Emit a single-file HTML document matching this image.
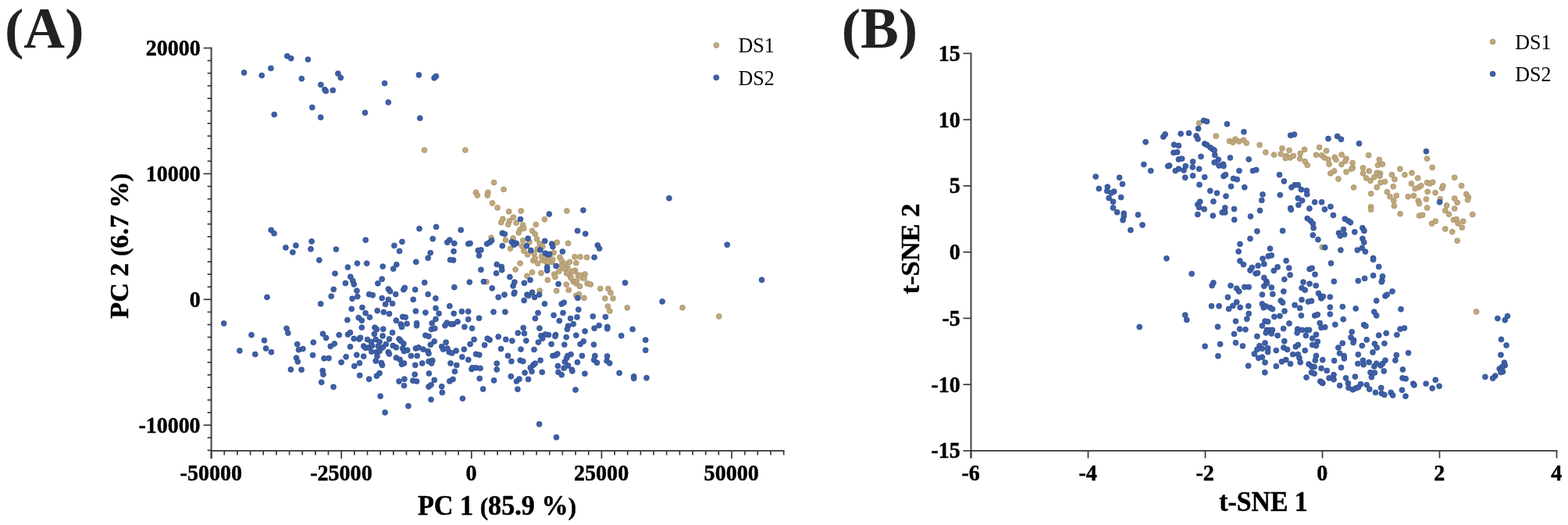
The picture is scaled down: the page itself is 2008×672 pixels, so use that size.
<!DOCTYPE html>
<html><head><meta charset="utf-8"><style>
html,body{margin:0;padding:0;background:#fff;}
svg{display:block;}
text{font-family:"Liberation Serif","Times New Roman",serif;}
</style></head><body>
<svg width="2008" height="672" viewBox="0 0 2008 672">
<rect width="2008" height="672" fill="#fff"/>
<line x1="270.6" y1="60.5" x2="270.6" y2="587.0" stroke="#4a4a4a" stroke-width="2.1"/>
<line x1="269.6" y1="577.0" x2="1004.6" y2="577.0" stroke="#4a4a4a" stroke-width="2.1"/>
<line x1="265.6" y1="576.4" x2="270.6" y2="576.4" stroke="#383838" stroke-width="1.7"/>
<line x1="265.6" y1="560.3" x2="270.6" y2="560.3" stroke="#383838" stroke-width="1.7"/>
<line x1="260.6" y1="544.2" x2="270.6" y2="544.2" stroke="#383838" stroke-width="1.7"/>
<line x1="265.6" y1="528.1" x2="270.6" y2="528.1" stroke="#383838" stroke-width="1.7"/>
<line x1="265.6" y1="512.0" x2="270.6" y2="512.0" stroke="#383838" stroke-width="1.7"/>
<line x1="265.6" y1="495.9" x2="270.6" y2="495.9" stroke="#383838" stroke-width="1.7"/>
<line x1="265.6" y1="479.8" x2="270.6" y2="479.8" stroke="#383838" stroke-width="1.7"/>
<line x1="265.6" y1="463.8" x2="270.6" y2="463.8" stroke="#383838" stroke-width="1.7"/>
<line x1="265.6" y1="447.7" x2="270.6" y2="447.7" stroke="#383838" stroke-width="1.7"/>
<line x1="265.6" y1="431.6" x2="270.6" y2="431.6" stroke="#383838" stroke-width="1.7"/>
<line x1="265.6" y1="415.5" x2="270.6" y2="415.5" stroke="#383838" stroke-width="1.7"/>
<line x1="265.6" y1="399.4" x2="270.6" y2="399.4" stroke="#383838" stroke-width="1.7"/>
<line x1="260.6" y1="383.3" x2="270.6" y2="383.3" stroke="#383838" stroke-width="1.7"/>
<line x1="265.6" y1="367.2" x2="270.6" y2="367.2" stroke="#383838" stroke-width="1.7"/>
<line x1="265.6" y1="351.1" x2="270.6" y2="351.1" stroke="#383838" stroke-width="1.7"/>
<line x1="265.6" y1="335.0" x2="270.6" y2="335.0" stroke="#383838" stroke-width="1.7"/>
<line x1="265.6" y1="318.9" x2="270.6" y2="318.9" stroke="#383838" stroke-width="1.7"/>
<line x1="265.6" y1="302.9" x2="270.6" y2="302.9" stroke="#383838" stroke-width="1.7"/>
<line x1="265.6" y1="286.8" x2="270.6" y2="286.8" stroke="#383838" stroke-width="1.7"/>
<line x1="265.6" y1="270.7" x2="270.6" y2="270.7" stroke="#383838" stroke-width="1.7"/>
<line x1="265.6" y1="254.6" x2="270.6" y2="254.6" stroke="#383838" stroke-width="1.7"/>
<line x1="265.6" y1="238.5" x2="270.6" y2="238.5" stroke="#383838" stroke-width="1.7"/>
<line x1="260.6" y1="222.4" x2="270.6" y2="222.4" stroke="#383838" stroke-width="1.7"/>
<line x1="265.6" y1="206.3" x2="270.6" y2="206.3" stroke="#383838" stroke-width="1.7"/>
<line x1="265.6" y1="190.2" x2="270.6" y2="190.2" stroke="#383838" stroke-width="1.7"/>
<line x1="265.6" y1="174.1" x2="270.6" y2="174.1" stroke="#383838" stroke-width="1.7"/>
<line x1="265.6" y1="158.0" x2="270.6" y2="158.0" stroke="#383838" stroke-width="1.7"/>
<line x1="265.6" y1="142.0" x2="270.6" y2="142.0" stroke="#383838" stroke-width="1.7"/>
<line x1="265.6" y1="125.9" x2="270.6" y2="125.9" stroke="#383838" stroke-width="1.7"/>
<line x1="265.6" y1="109.8" x2="270.6" y2="109.8" stroke="#383838" stroke-width="1.7"/>
<line x1="265.6" y1="93.7" x2="270.6" y2="93.7" stroke="#383838" stroke-width="1.7"/>
<line x1="265.6" y1="77.6" x2="270.6" y2="77.6" stroke="#383838" stroke-width="1.7"/>
<line x1="260.6" y1="61.5" x2="270.6" y2="61.5" stroke="#383838" stroke-width="1.7"/>
<line x1="270.6" y1="577.0" x2="270.6" y2="587.0" stroke="#383838" stroke-width="1.7"/>
<line x1="287.3" y1="577.0" x2="287.3" y2="582.5" stroke="#383838" stroke-width="1.7"/>
<line x1="303.9" y1="577.0" x2="303.9" y2="582.5" stroke="#383838" stroke-width="1.7"/>
<line x1="320.6" y1="577.0" x2="320.6" y2="582.5" stroke="#383838" stroke-width="1.7"/>
<line x1="337.2" y1="577.0" x2="337.2" y2="582.5" stroke="#383838" stroke-width="1.7"/>
<line x1="353.9" y1="577.0" x2="353.9" y2="582.5" stroke="#383838" stroke-width="1.7"/>
<line x1="370.6" y1="577.0" x2="370.6" y2="582.5" stroke="#383838" stroke-width="1.7"/>
<line x1="387.2" y1="577.0" x2="387.2" y2="582.5" stroke="#383838" stroke-width="1.7"/>
<line x1="403.9" y1="577.0" x2="403.9" y2="582.5" stroke="#383838" stroke-width="1.7"/>
<line x1="420.5" y1="577.0" x2="420.5" y2="582.5" stroke="#383838" stroke-width="1.7"/>
<line x1="437.2" y1="577.0" x2="437.2" y2="587.0" stroke="#383838" stroke-width="1.7"/>
<line x1="453.9" y1="577.0" x2="453.9" y2="582.5" stroke="#383838" stroke-width="1.7"/>
<line x1="470.5" y1="577.0" x2="470.5" y2="582.5" stroke="#383838" stroke-width="1.7"/>
<line x1="487.2" y1="577.0" x2="487.2" y2="582.5" stroke="#383838" stroke-width="1.7"/>
<line x1="503.8" y1="577.0" x2="503.8" y2="582.5" stroke="#383838" stroke-width="1.7"/>
<line x1="520.5" y1="577.0" x2="520.5" y2="582.5" stroke="#383838" stroke-width="1.7"/>
<line x1="537.2" y1="577.0" x2="537.2" y2="582.5" stroke="#383838" stroke-width="1.7"/>
<line x1="553.8" y1="577.0" x2="553.8" y2="582.5" stroke="#383838" stroke-width="1.7"/>
<line x1="570.5" y1="577.0" x2="570.5" y2="582.5" stroke="#383838" stroke-width="1.7"/>
<line x1="587.1" y1="577.0" x2="587.1" y2="582.5" stroke="#383838" stroke-width="1.7"/>
<line x1="603.8" y1="577.0" x2="603.8" y2="587.0" stroke="#383838" stroke-width="1.7"/>
<line x1="620.5" y1="577.0" x2="620.5" y2="582.5" stroke="#383838" stroke-width="1.7"/>
<line x1="637.1" y1="577.0" x2="637.1" y2="582.5" stroke="#383838" stroke-width="1.7"/>
<line x1="653.8" y1="577.0" x2="653.8" y2="582.5" stroke="#383838" stroke-width="1.7"/>
<line x1="670.4" y1="577.0" x2="670.4" y2="582.5" stroke="#383838" stroke-width="1.7"/>
<line x1="687.1" y1="577.0" x2="687.1" y2="582.5" stroke="#383838" stroke-width="1.7"/>
<line x1="703.8" y1="577.0" x2="703.8" y2="582.5" stroke="#383838" stroke-width="1.7"/>
<line x1="720.4" y1="577.0" x2="720.4" y2="582.5" stroke="#383838" stroke-width="1.7"/>
<line x1="737.1" y1="577.0" x2="737.1" y2="582.5" stroke="#383838" stroke-width="1.7"/>
<line x1="753.7" y1="577.0" x2="753.7" y2="582.5" stroke="#383838" stroke-width="1.7"/>
<line x1="770.4" y1="577.0" x2="770.4" y2="587.0" stroke="#383838" stroke-width="1.7"/>
<line x1="787.1" y1="577.0" x2="787.1" y2="582.5" stroke="#383838" stroke-width="1.7"/>
<line x1="803.7" y1="577.0" x2="803.7" y2="582.5" stroke="#383838" stroke-width="1.7"/>
<line x1="820.4" y1="577.0" x2="820.4" y2="582.5" stroke="#383838" stroke-width="1.7"/>
<line x1="837.0" y1="577.0" x2="837.0" y2="582.5" stroke="#383838" stroke-width="1.7"/>
<line x1="853.7" y1="577.0" x2="853.7" y2="582.5" stroke="#383838" stroke-width="1.7"/>
<line x1="870.4" y1="577.0" x2="870.4" y2="582.5" stroke="#383838" stroke-width="1.7"/>
<line x1="887.0" y1="577.0" x2="887.0" y2="582.5" stroke="#383838" stroke-width="1.7"/>
<line x1="903.7" y1="577.0" x2="903.7" y2="582.5" stroke="#383838" stroke-width="1.7"/>
<line x1="920.3" y1="577.0" x2="920.3" y2="582.5" stroke="#383838" stroke-width="1.7"/>
<line x1="937.0" y1="577.0" x2="937.0" y2="587.0" stroke="#383838" stroke-width="1.7"/>
<line x1="953.7" y1="577.0" x2="953.7" y2="582.5" stroke="#383838" stroke-width="1.7"/>
<line x1="970.3" y1="577.0" x2="970.3" y2="582.5" stroke="#383838" stroke-width="1.7"/>
<line x1="987.0" y1="577.0" x2="987.0" y2="582.5" stroke="#383838" stroke-width="1.7"/>
<line x1="1003.6" y1="577.0" x2="1003.6" y2="582.5" stroke="#383838" stroke-width="1.7"/>
<text transform="translate(256.60,70.80) scale(1.035,1.085)" font-size="27" text-anchor="end" font-weight="bold" fill="#000" stroke="#000" stroke-width="0.45" >20000</text>
<text transform="translate(256.60,231.70) scale(1.035,1.085)" font-size="27" text-anchor="end" font-weight="bold" fill="#000" stroke="#000" stroke-width="0.45" >10000</text>
<text transform="translate(256.60,392.60) scale(1.035,1.085)" font-size="27" text-anchor="end" font-weight="bold" fill="#000" stroke="#000" stroke-width="0.45" >0</text>
<text transform="translate(256.60,553.50) scale(1.035,1.085)" font-size="27" text-anchor="end" font-weight="bold" fill="#000" stroke="#000" stroke-width="0.45" >-10000</text>
<text transform="translate(270.30,615.00) scale(1.04,1.09)" font-size="27" text-anchor="middle" font-weight="bold" fill="#000" stroke="#000" stroke-width="0.45" >-50000</text>
<text transform="translate(436.90,615.00) scale(1.04,1.09)" font-size="27" text-anchor="middle" font-weight="bold" fill="#000" stroke="#000" stroke-width="0.45" >-25000</text>
<text transform="translate(603.50,615.00) scale(1.04,1.09)" font-size="27" text-anchor="middle" font-weight="bold" fill="#000" stroke="#000" stroke-width="0.45" >0</text>
<text transform="translate(770.10,615.00) scale(1.04,1.09)" font-size="27" text-anchor="middle" font-weight="bold" fill="#000" stroke="#000" stroke-width="0.45" >25000</text>
<text transform="translate(936.70,615.00) scale(1.04,1.09)" font-size="27" text-anchor="middle" font-weight="bold" fill="#000" stroke="#000" stroke-width="0.45" >50000</text>
<text transform="translate(636.50,659.00) scale(0.991,1.015)" font-size="34.5" text-anchor="middle" font-weight="bold" fill="#000" stroke="#000" stroke-width="0.45" >PC 1 <tspan font-size="31.5">(</tspan>85.9 %<tspan font-size="31.5">)</tspan></text>
<text transform="translate(164.20,314.80) rotate(-90) scale(0.99,1.0)" font-size="34.5" text-anchor="middle" font-weight="bold" fill="#000" stroke="#000" stroke-width="0.45" >PC 2 <tspan font-size="31.5">(</tspan>6.7 %<tspan font-size="31.5">)</tspan></text>
<text transform="translate(6.00,61.00) scale(1.03,1.0)" font-size="71" text-anchor="start" font-weight="bold" fill="#222" >(</text>
<text transform="translate(30.35,61.00) scale(1.03,1.042)" font-size="71" text-anchor="start" font-weight="bold" fill="#222" >A</text>
<text transform="translate(83.17,61.00) scale(1.03,1.0)" font-size="71" text-anchor="start" font-weight="bold" fill="#222" >)</text>
<line x1="1243.5" y1="67.4" x2="1243.5" y2="586.5" stroke="#4a4a4a" stroke-width="2.1"/>
<line x1="1242.5" y1="577.0" x2="1994.5" y2="577.0" stroke="#4a4a4a" stroke-width="2.1"/>
<line x1="1233.5" y1="577.0" x2="1243.5" y2="577.0" stroke="#383838" stroke-width="1.7"/>
<line x1="1233.5" y1="492.2" x2="1243.5" y2="492.2" stroke="#383838" stroke-width="1.7"/>
<line x1="1233.5" y1="407.4" x2="1243.5" y2="407.4" stroke="#383838" stroke-width="1.7"/>
<line x1="1233.5" y1="322.7" x2="1243.5" y2="322.7" stroke="#383838" stroke-width="1.7"/>
<line x1="1233.5" y1="237.9" x2="1243.5" y2="237.9" stroke="#383838" stroke-width="1.7"/>
<line x1="1233.5" y1="153.2" x2="1243.5" y2="153.2" stroke="#383838" stroke-width="1.7"/>
<line x1="1233.5" y1="68.4" x2="1243.5" y2="68.4" stroke="#383838" stroke-width="1.7"/>
<line x1="1243.5" y1="577.0" x2="1243.5" y2="586.5" stroke="#383838" stroke-width="1.7"/>
<line x1="1393.5" y1="577.0" x2="1393.5" y2="586.5" stroke="#383838" stroke-width="1.7"/>
<line x1="1543.5" y1="577.0" x2="1543.5" y2="586.5" stroke="#383838" stroke-width="1.7"/>
<line x1="1693.5" y1="577.0" x2="1693.5" y2="586.5" stroke="#383838" stroke-width="1.7"/>
<line x1="1843.5" y1="577.0" x2="1843.5" y2="586.5" stroke="#383838" stroke-width="1.7"/>
<line x1="1993.5" y1="577.0" x2="1993.5" y2="586.5" stroke="#383838" stroke-width="1.7"/>
<text transform="translate(1229.80,586.25) scale(1.035,1.085)" font-size="27" text-anchor="end" font-weight="bold" fill="#000" stroke="#000" stroke-width="0.45" >-15</text>
<text transform="translate(1229.80,501.50) scale(1.035,1.085)" font-size="27" text-anchor="end" font-weight="bold" fill="#000" stroke="#000" stroke-width="0.45" >-10</text>
<text transform="translate(1229.80,416.75) scale(1.035,1.085)" font-size="27" text-anchor="end" font-weight="bold" fill="#000" stroke="#000" stroke-width="0.45" >-5</text>
<text transform="translate(1229.80,332.00) scale(1.035,1.085)" font-size="27" text-anchor="end" font-weight="bold" fill="#000" stroke="#000" stroke-width="0.45" >0</text>
<text transform="translate(1229.80,247.25) scale(1.035,1.085)" font-size="27" text-anchor="end" font-weight="bold" fill="#000" stroke="#000" stroke-width="0.45" >5</text>
<text transform="translate(1229.80,162.50) scale(1.035,1.085)" font-size="27" text-anchor="end" font-weight="bold" fill="#000" stroke="#000" stroke-width="0.45" >10</text>
<text transform="translate(1229.80,77.75) scale(1.035,1.085)" font-size="27" text-anchor="end" font-weight="bold" fill="#000" stroke="#000" stroke-width="0.45" >15</text>
<text transform="translate(1243.20,615.00) scale(1.04,1.09)" font-size="27" text-anchor="middle" font-weight="bold" fill="#000" stroke="#000" stroke-width="0.45" >-6</text>
<text transform="translate(1393.20,615.00) scale(1.04,1.09)" font-size="27" text-anchor="middle" font-weight="bold" fill="#000" stroke="#000" stroke-width="0.45" >-4</text>
<text transform="translate(1543.20,615.00) scale(1.04,1.09)" font-size="27" text-anchor="middle" font-weight="bold" fill="#000" stroke="#000" stroke-width="0.45" >-2</text>
<text transform="translate(1693.20,615.00) scale(1.04,1.09)" font-size="27" text-anchor="middle" font-weight="bold" fill="#000" stroke="#000" stroke-width="0.45" >0</text>
<text transform="translate(1843.20,615.00) scale(1.04,1.09)" font-size="27" text-anchor="middle" font-weight="bold" fill="#000" stroke="#000" stroke-width="0.45" >2</text>
<text transform="translate(1993.20,615.00) scale(1.04,1.09)" font-size="27" text-anchor="middle" font-weight="bold" fill="#000" stroke="#000" stroke-width="0.45" >4</text>
<text transform="translate(1618.00,654.20) scale(0.978,1.015)" font-size="34.5" text-anchor="middle" font-weight="bold" fill="#000" stroke="#000" stroke-width="0.45" >t-SNE 1</text>
<text transform="translate(1177.00,318.50) rotate(-90)" font-size="34.5" text-anchor="middle" font-weight="bold" fill="#000" stroke="#000" stroke-width="0.45" >t-SNE 2</text>
<text transform="translate(1077.70,61.00) scale(1.03,1.0)" font-size="71" text-anchor="start" font-weight="bold" fill="#222" >(</text>
<text transform="translate(1102.05,61.00) scale(1.03,1.042)" font-size="71" text-anchor="start" font-weight="bold" fill="#222" >B</text>
<text transform="translate(1150.83,61.00) scale(1.03,1.0)" font-size="71" text-anchor="start" font-weight="bold" fill="#222" >)</text>
<circle cx="917.3" cy="57.9" r="3.45" fill="#bfa87c" stroke="#a89266" stroke-width="0.8"/>
<circle cx="917.3" cy="99.2" r="3.45" fill="#3d60a8" stroke="#2f4c8c" stroke-width="0.8"/>
<text transform="translate(945.50,67.30) scale(0.93,1.0)" font-size="28" text-anchor="start" font-weight="normal" fill="#000" >DS1</text>
<text transform="translate(945.50,108.60) scale(0.93,1.0)" font-size="28" text-anchor="start" font-weight="normal" fill="#000" >DS2</text>
<circle cx="1911.6" cy="53.4" r="3.45" fill="#bfa87c" stroke="#a89266" stroke-width="0.8"/>
<circle cx="1911.6" cy="94.6" r="3.45" fill="#3d60a8" stroke="#2f4c8c" stroke-width="0.8"/>
<text transform="translate(1940.30,62.80) scale(0.93,1.0)" font-size="28" text-anchor="start" font-weight="normal" fill="#000" >DS1</text>
<text transform="translate(1940.30,104.00) scale(0.93,1.0)" font-size="28" text-anchor="start" font-weight="normal" fill="#000" >DS2</text>
<g fill="#bfa87c" stroke="#a89266" stroke-width="0.8">
<circle cx="543.5" cy="192.1" r="3.45"/>
<circle cx="595.9" cy="192.1" r="3.45"/>
<circle cx="632.6" cy="233.6" r="3.45"/>
<circle cx="609.5" cy="246.2" r="3.45"/>
<circle cx="611.3" cy="250.1" r="3.45"/>
<circle cx="624.9" cy="246.2" r="3.45"/>
<circle cx="624.2" cy="250.1" r="3.45"/>
<circle cx="630.5" cy="260.0" r="3.45"/>
<circle cx="637.1" cy="265.9" r="3.45"/>
<circle cx="645.0" cy="242.4" r="3.45"/>
<circle cx="651.7" cy="270.8" r="3.45"/>
<circle cx="667.3" cy="270.0" r="3.45"/>
<circle cx="725.9" cy="269.9" r="3.45"/>
<circle cx="697.4" cy="280.8" r="3.45"/>
<circle cx="643.9" cy="280.3" r="3.45"/>
<circle cx="657.4" cy="278.1" r="3.45"/>
<circle cx="652.5" cy="282.6" r="3.45"/>
<circle cx="661.2" cy="285.3" r="3.45"/>
<circle cx="641.8" cy="284.7" r="3.45"/>
<circle cx="650.8" cy="287.4" r="3.45"/>
<circle cx="669.6" cy="288.0" r="3.45"/>
<circle cx="686.3" cy="287.4" r="3.45"/>
<circle cx="666.1" cy="293.6" r="3.45"/>
<circle cx="670.8" cy="292.4" r="3.45"/>
<circle cx="664.3" cy="297.8" r="3.45"/>
<circle cx="681.6" cy="295.4" r="3.45"/>
<circle cx="685.2" cy="299.6" r="3.45"/>
<circle cx="629.0" cy="304.3" r="3.45"/>
<circle cx="647.5" cy="307.3" r="3.45"/>
<circle cx="657.1" cy="304.9" r="3.45"/>
<circle cx="653.5" cy="318.1" r="3.45"/>
<circle cx="669.6" cy="307.9" r="3.45"/>
<circle cx="668.4" cy="315.1" r="3.45"/>
<circle cx="678.0" cy="309.7" r="3.45"/>
<circle cx="687.6" cy="306.1" r="3.45"/>
<circle cx="691.2" cy="312.1" r="3.45"/>
<circle cx="684.0" cy="324.7" r="3.45"/>
<circle cx="670.8" cy="321.1" r="3.45"/>
<circle cx="675.6" cy="325.9" r="3.45"/>
<circle cx="688.2" cy="318.7" r="3.45"/>
<circle cx="694.7" cy="315.7" r="3.45"/>
<circle cx="709.1" cy="323.5" r="3.45"/>
<circle cx="713.3" cy="310.3" r="3.45"/>
<circle cx="727.6" cy="311.5" r="3.45"/>
<circle cx="736.0" cy="328.8" r="3.45"/>
<circle cx="743.1" cy="328.8" r="3.45"/>
<circle cx="751.5" cy="329.4" r="3.45"/>
<circle cx="716.9" cy="329.4" r="3.45"/>
<circle cx="719.2" cy="333.6" r="3.45"/>
<circle cx="682.8" cy="333.6" r="3.45"/>
<circle cx="688.8" cy="337.2" r="3.45"/>
<circle cx="694.7" cy="333.0" r="3.45"/>
<circle cx="699.5" cy="330.6" r="3.45"/>
<circle cx="705.5" cy="331.8" r="3.45"/>
<circle cx="706.7" cy="335.4" r="3.45"/>
<circle cx="723.4" cy="337.8" r="3.45"/>
<circle cx="729.4" cy="335.4" r="3.45"/>
<circle cx="737.8" cy="336.6" r="3.45"/>
<circle cx="718.6" cy="340.2" r="3.45"/>
<circle cx="666.1" cy="337.0" r="3.45"/>
<circle cx="660.1" cy="345.0" r="3.45"/>
<circle cx="681.6" cy="348.6" r="3.45"/>
<circle cx="692.9" cy="349.5" r="3.45"/>
<circle cx="675.0" cy="353.3" r="3.45"/>
<circle cx="709.7" cy="351.0" r="3.45"/>
<circle cx="710.9" cy="354.5" r="3.45"/>
<circle cx="715.7" cy="347.4" r="3.45"/>
<circle cx="701.3" cy="358.4" r="3.45"/>
<circle cx="725.8" cy="349.8" r="3.45"/>
<circle cx="733.0" cy="347.4" r="3.45"/>
<circle cx="736.6" cy="346.2" r="3.45"/>
<circle cx="740.2" cy="352.2" r="3.45"/>
<circle cx="749.1" cy="351.0" r="3.45"/>
<circle cx="746.1" cy="355.7" r="3.45"/>
<circle cx="730.6" cy="354.5" r="3.45"/>
<circle cx="734.2" cy="360.5" r="3.45"/>
<circle cx="737.8" cy="362.9" r="3.45"/>
<circle cx="725.2" cy="364.1" r="3.45"/>
<circle cx="752.1" cy="362.9" r="3.45"/>
<circle cx="756.3" cy="364.1" r="3.45"/>
<circle cx="742.5" cy="366.5" r="3.45"/>
<circle cx="768.8" cy="369.5" r="3.45"/>
<circle cx="779.0" cy="369.5" r="3.45"/>
<circle cx="623.0" cy="360.8" r="3.45"/>
<circle cx="699.5" cy="335.4" r="3.45"/>
<circle cx="703.1" cy="329.4" r="3.45"/>
<circle cx="727.0" cy="342.6" r="3.45"/>
<circle cx="722.2" cy="343.8" r="3.45"/>
<circle cx="685.2" cy="330.6" r="3.45"/>
<circle cx="693.5" cy="328.2" r="3.45"/>
<circle cx="712.7" cy="372.2" r="3.45"/>
<circle cx="728.2" cy="371.2" r="3.45"/>
<circle cx="737.8" cy="378.4" r="3.45"/>
<circle cx="741.4" cy="376.6" r="3.45"/>
<circle cx="747.9" cy="381.4" r="3.45"/>
<circle cx="774.8" cy="382.0" r="3.45"/>
<circle cx="785.0" cy="382.0" r="3.45"/>
<circle cx="782.0" cy="374.8" r="3.45"/>
<circle cx="778.4" cy="392.1" r="3.45"/>
<circle cx="780.8" cy="398.1" r="3.45"/>
<circle cx="803.3" cy="393.9" r="3.45"/>
<circle cx="691.2" cy="372.2" r="3.45"/>
<circle cx="874.0" cy="393.8" r="3.45"/>
<circle cx="920.7" cy="405.0" r="3.45"/>
<circle cx="726.7" cy="350.0" r="3.45"/>
<circle cx="733.8" cy="347.6" r="3.45"/>
<circle cx="743.3" cy="352.4" r="3.45"/>
<circle cx="748.1" cy="356.0" r="3.45"/>
<circle cx="738.6" cy="359.5" r="3.45"/>
<circle cx="731.4" cy="356.0" r="3.45"/>
<circle cx="707.6" cy="332.1" r="3.45"/>
<circle cx="701.7" cy="335.7" r="3.45"/>
</g>
<g fill="#3d60a8" stroke="#2f4c8c" stroke-width="0.8">
<circle cx="312.6" cy="93.0" r="3.45"/>
<circle cx="335.2" cy="96.6" r="3.45"/>
<circle cx="346.9" cy="87.4" r="3.45"/>
<circle cx="367.8" cy="71.8" r="3.45"/>
<circle cx="372.7" cy="74.7" r="3.45"/>
<circle cx="394.4" cy="76.1" r="3.45"/>
<circle cx="386.3" cy="100.7" r="3.45"/>
<circle cx="410.9" cy="108.4" r="3.45"/>
<circle cx="415.9" cy="114.7" r="3.45"/>
<circle cx="417.3" cy="116.5" r="3.45"/>
<circle cx="426.3" cy="115.6" r="3.45"/>
<circle cx="432.9" cy="94.1" r="3.45"/>
<circle cx="436.3" cy="99.4" r="3.45"/>
<circle cx="492.6" cy="106.6" r="3.45"/>
<circle cx="536.4" cy="95.9" r="3.45"/>
<circle cx="556.1" cy="99.8" r="3.45"/>
<circle cx="558.4" cy="97.6" r="3.45"/>
<circle cx="351.2" cy="146.6" r="3.45"/>
<circle cx="399.8" cy="137.5" r="3.45"/>
<circle cx="410.7" cy="150.2" r="3.45"/>
<circle cx="467.5" cy="144.3" r="3.45"/>
<circle cx="497.3" cy="131.0" r="3.45"/>
<circle cx="537.8" cy="151.3" r="3.45"/>
<circle cx="666.5" cy="280.6" r="3.45"/>
<circle cx="703.3" cy="274.0" r="3.45"/>
<circle cx="746.9" cy="269.1" r="3.45"/>
<circle cx="856.9" cy="253.7" r="3.45"/>
<circle cx="590.2" cy="294.4" r="3.45"/>
<circle cx="643.3" cy="298.4" r="3.45"/>
<circle cx="646.3" cy="299.6" r="3.45"/>
<circle cx="581.8" cy="311.5" r="3.45"/>
<circle cx="599.7" cy="312.1" r="3.45"/>
<circle cx="602.1" cy="311.5" r="3.45"/>
<circle cx="623.6" cy="312.1" r="3.45"/>
<circle cx="627.2" cy="310.3" r="3.45"/>
<circle cx="629.6" cy="307.9" r="3.45"/>
<circle cx="643.3" cy="314.7" r="3.45"/>
<circle cx="655.3" cy="309.7" r="3.45"/>
<circle cx="658.9" cy="310.9" r="3.45"/>
<circle cx="661.3" cy="311.5" r="3.45"/>
<circle cx="658.3" cy="313.3" r="3.45"/>
<circle cx="612.3" cy="320.5" r="3.45"/>
<circle cx="615.9" cy="319.9" r="3.45"/>
<circle cx="613.5" cy="327.1" r="3.45"/>
<circle cx="581.0" cy="321.7" r="3.45"/>
<circle cx="580.6" cy="333.0" r="3.45"/>
<circle cx="676.2" cy="305.3" r="3.45"/>
<circle cx="674.4" cy="314.7" r="3.45"/>
<circle cx="679.8" cy="320.5" r="3.45"/>
<circle cx="697.7" cy="308.5" r="3.45"/>
<circle cx="706.7" cy="312.1" r="3.45"/>
<circle cx="707.9" cy="315.7" r="3.45"/>
<circle cx="720.4" cy="322.0" r="3.45"/>
<circle cx="691.8" cy="319.9" r="3.45"/>
<circle cx="698.3" cy="324.1" r="3.45"/>
<circle cx="701.9" cy="325.9" r="3.45"/>
<circle cx="703.7" cy="325.3" r="3.45"/>
<circle cx="739.6" cy="295.4" r="3.45"/>
<circle cx="749.7" cy="299.3" r="3.45"/>
<circle cx="765.3" cy="313.9" r="3.45"/>
<circle cx="767.6" cy="318.1" r="3.45"/>
<circle cx="761.1" cy="329.4" r="3.45"/>
<circle cx="636.2" cy="338.4" r="3.45"/>
<circle cx="642.2" cy="341.4" r="3.45"/>
<circle cx="642.7" cy="345.6" r="3.45"/>
<circle cx="615.9" cy="345.3" r="3.45"/>
<circle cx="635.6" cy="349.8" r="3.45"/>
<circle cx="652.9" cy="354.5" r="3.45"/>
<circle cx="601.3" cy="361.1" r="3.45"/>
<circle cx="619.4" cy="360.5" r="3.45"/>
<circle cx="658.9" cy="361.1" r="3.45"/>
<circle cx="657.1" cy="365.9" r="3.45"/>
<circle cx="671.4" cy="362.3" r="3.45"/>
<circle cx="679.0" cy="358.4" r="3.45"/>
<circle cx="700.7" cy="342.0" r="3.45"/>
<circle cx="700.7" cy="346.2" r="3.45"/>
<circle cx="712.1" cy="340.4" r="3.45"/>
<circle cx="715.1" cy="363.5" r="3.45"/>
<circle cx="800.5" cy="362.0" r="3.45"/>
<circle cx="581.8" cy="367.7" r="3.45"/>
<circle cx="630.2" cy="368.9" r="3.45"/>
<circle cx="347.2" cy="294.5" r="3.45"/>
<circle cx="351.0" cy="298.7" r="3.45"/>
<circle cx="365.9" cy="316.9" r="3.45"/>
<circle cx="378.9" cy="314.2" r="3.45"/>
<circle cx="374.9" cy="322.9" r="3.45"/>
<circle cx="399.1" cy="309.0" r="3.45"/>
<circle cx="398.0" cy="318.8" r="3.45"/>
<circle cx="430.4" cy="319.1" r="3.45"/>
<circle cx="408.8" cy="333.0" r="3.45"/>
<circle cx="468.2" cy="307.2" r="3.45"/>
<circle cx="537.0" cy="292.7" r="3.45"/>
<circle cx="558.6" cy="290.4" r="3.45"/>
<circle cx="504.9" cy="314.4" r="3.45"/>
<circle cx="514.9" cy="309.4" r="3.45"/>
<circle cx="511.6" cy="321.4" r="3.45"/>
<circle cx="554.2" cy="305.7" r="3.45"/>
<circle cx="575.8" cy="307.2" r="3.45"/>
<circle cx="572.8" cy="310.2" r="3.45"/>
<circle cx="551.2" cy="323.6" r="3.45"/>
<circle cx="548.2" cy="330.3" r="3.45"/>
<circle cx="576.6" cy="332.6" r="3.45"/>
<circle cx="532.8" cy="335.3" r="3.45"/>
<circle cx="507.8" cy="338.6" r="3.45"/>
<circle cx="503.7" cy="344.1" r="3.45"/>
<circle cx="490.2" cy="341.1" r="3.45"/>
<circle cx="469.7" cy="337.1" r="3.45"/>
<circle cx="457.5" cy="337.1" r="3.45"/>
<circle cx="445.4" cy="342.1" r="3.45"/>
<circle cx="429.0" cy="350.1" r="3.45"/>
<circle cx="448.8" cy="354.2" r="3.45"/>
<circle cx="451.8" cy="359.5" r="3.45"/>
<circle cx="453.3" cy="364.0" r="3.45"/>
<circle cx="442.4" cy="362.5" r="3.45"/>
<circle cx="489.2" cy="357.2" r="3.45"/>
<circle cx="483.9" cy="362.8" r="3.45"/>
<circle cx="543.7" cy="361.7" r="3.45"/>
<circle cx="427.2" cy="370.4" r="3.45"/>
<circle cx="424.2" cy="379.2" r="3.45"/>
<circle cx="457.0" cy="372.2" r="3.45"/>
<circle cx="457.8" cy="379.6" r="3.45"/>
<circle cx="451.1" cy="382.3" r="3.45"/>
<circle cx="472.7" cy="376.7" r="3.45"/>
<circle cx="477.2" cy="377.8" r="3.45"/>
<circle cx="489.2" cy="381.6" r="3.45"/>
<circle cx="497.4" cy="369.9" r="3.45"/>
<circle cx="499.6" cy="372.9" r="3.45"/>
<circle cx="506.8" cy="376.7" r="3.45"/>
<circle cx="497.4" cy="383.4" r="3.45"/>
<circle cx="516.8" cy="370.7" r="3.45"/>
<circle cx="518.3" cy="368.4" r="3.45"/>
<circle cx="531.7" cy="370.7" r="3.45"/>
<circle cx="548.2" cy="376.7" r="3.45"/>
<circle cx="557.9" cy="381.9" r="3.45"/>
<circle cx="529.2" cy="383.4" r="3.45"/>
<circle cx="342.0" cy="380.4" r="3.45"/>
<circle cx="410.7" cy="388.9" r="3.45"/>
<circle cx="493.6" cy="389.4" r="3.45"/>
<circle cx="502.6" cy="388.6" r="3.45"/>
<circle cx="638.2" cy="380.5" r="3.45"/>
<circle cx="646.0" cy="377.2" r="3.45"/>
<circle cx="658.3" cy="376.0" r="3.45"/>
<circle cx="658.9" cy="374.2" r="3.45"/>
<circle cx="675.0" cy="377.2" r="3.45"/>
<circle cx="676.8" cy="378.4" r="3.45"/>
<circle cx="681.6" cy="374.2" r="3.45"/>
<circle cx="684.6" cy="380.5" r="3.45"/>
<circle cx="690.6" cy="377.2" r="3.45"/>
<circle cx="671.1" cy="384.6" r="3.45"/>
<circle cx="697.5" cy="388.9" r="3.45"/>
<circle cx="719.2" cy="389.1" r="3.45"/>
<circle cx="722.2" cy="387.3" r="3.45"/>
<circle cx="739.9" cy="381.4" r="3.45"/>
<circle cx="740.8" cy="396.3" r="3.45"/>
<circle cx="721.0" cy="400.5" r="3.45"/>
<circle cx="709.1" cy="403.5" r="3.45"/>
<circle cx="716.3" cy="410.6" r="3.45"/>
<circle cx="730.6" cy="407.6" r="3.45"/>
<circle cx="739.0" cy="405.9" r="3.45"/>
<circle cx="734.2" cy="414.8" r="3.45"/>
<circle cx="727.6" cy="417.2" r="3.45"/>
<circle cx="726.4" cy="421.4" r="3.45"/>
<circle cx="759.3" cy="405.0" r="3.45"/>
<circle cx="775.4" cy="405.6" r="3.45"/>
<circle cx="767.1" cy="416.6" r="3.45"/>
<circle cx="761.1" cy="420.2" r="3.45"/>
<circle cx="777.8" cy="418.4" r="3.45"/>
<circle cx="777.8" cy="420.8" r="3.45"/>
<circle cx="810.1" cy="421.4" r="3.45"/>
<circle cx="749.1" cy="424.0" r="3.45"/>
<circle cx="795.7" cy="429.8" r="3.45"/>
<circle cx="737.8" cy="429.2" r="3.45"/>
<circle cx="725.2" cy="431.6" r="3.45"/>
<circle cx="711.5" cy="428.6" r="3.45"/>
<circle cx="710.9" cy="430.4" r="3.45"/>
<circle cx="702.5" cy="428.6" r="3.45"/>
<circle cx="698.3" cy="428.0" r="3.45"/>
<circle cx="692.9" cy="429.8" r="3.45"/>
<circle cx="694.7" cy="433.3" r="3.45"/>
<circle cx="689.4" cy="438.1" r="3.45"/>
<circle cx="706.1" cy="440.5" r="3.45"/>
<circle cx="722.8" cy="441.1" r="3.45"/>
<circle cx="743.1" cy="440.5" r="3.45"/>
<circle cx="747.3" cy="436.9" r="3.45"/>
<circle cx="760.5" cy="441.1" r="3.45"/>
<circle cx="690.9" cy="420.2" r="3.45"/>
<circle cx="689.0" cy="400.5" r="3.45"/>
<circle cx="685.4" cy="407.6" r="3.45"/>
<circle cx="670.2" cy="419.6" r="3.45"/>
<circle cx="671.4" cy="426.8" r="3.45"/>
<circle cx="663.3" cy="426.2" r="3.45"/>
<circle cx="673.8" cy="436.1" r="3.45"/>
<circle cx="655.9" cy="436.3" r="3.45"/>
<circle cx="647.8" cy="434.5" r="3.45"/>
<circle cx="638.2" cy="431.0" r="3.45"/>
<circle cx="627.2" cy="435.1" r="3.45"/>
<circle cx="624.2" cy="433.3" r="3.45"/>
<circle cx="620.6" cy="441.7" r="3.45"/>
<circle cx="607.1" cy="434.5" r="3.45"/>
<circle cx="602.1" cy="440.5" r="3.45"/>
<circle cx="594.3" cy="447.1" r="3.45"/>
<circle cx="584.2" cy="448.9" r="3.45"/>
<circle cx="641.6" cy="446.5" r="3.45"/>
<circle cx="667.0" cy="447.1" r="3.45"/>
<circle cx="684.0" cy="447.5" r="3.45"/>
<circle cx="581.2" cy="401.3" r="3.45"/>
<circle cx="591.4" cy="398.7" r="3.45"/>
<circle cx="599.7" cy="398.7" r="3.45"/>
<circle cx="632.0" cy="399.3" r="3.45"/>
<circle cx="646.9" cy="399.3" r="3.45"/>
<circle cx="613.5" cy="407.3" r="3.45"/>
<circle cx="599.7" cy="408.8" r="3.45"/>
<circle cx="586.0" cy="411.8" r="3.45"/>
<circle cx="580.6" cy="414.8" r="3.45"/>
<circle cx="594.9" cy="418.4" r="3.45"/>
<circle cx="604.5" cy="420.2" r="3.45"/>
<circle cx="931.2" cy="313.3" r="3.45"/>
<circle cx="975.5" cy="358.3" r="3.45"/>
<circle cx="848.1" cy="386.0" r="3.45"/>
<circle cx="826.7" cy="435.2" r="3.45"/>
<circle cx="826.7" cy="448.3" r="3.45"/>
<circle cx="286.7" cy="414.0" r="3.45"/>
<circle cx="322.0" cy="428.7" r="3.45"/>
<circle cx="338.5" cy="435.8" r="3.45"/>
<circle cx="306.9" cy="448.9" r="3.45"/>
<circle cx="326.8" cy="453.5" r="3.45"/>
<circle cx="340.6" cy="446.0" r="3.45"/>
<circle cx="347.4" cy="450.7" r="3.45"/>
<circle cx="367.0" cy="420.4" r="3.45"/>
<circle cx="368.8" cy="426.3" r="3.45"/>
<circle cx="380.7" cy="440.6" r="3.45"/>
<circle cx="382.5" cy="447.7" r="3.45"/>
<circle cx="387.9" cy="446.5" r="3.45"/>
<circle cx="379.5" cy="458.1" r="3.45"/>
<circle cx="381.3" cy="462.9" r="3.45"/>
<circle cx="401.3" cy="438.2" r="3.45"/>
<circle cx="400.6" cy="454.6" r="3.45"/>
<circle cx="413.5" cy="427.3" r="3.45"/>
<circle cx="417.6" cy="432.5" r="3.45"/>
<circle cx="423.3" cy="443.3" r="3.45"/>
<circle cx="428.3" cy="440.0" r="3.45"/>
<circle cx="415.0" cy="458.8" r="3.45"/>
<circle cx="421.0" cy="458.5" r="3.45"/>
<circle cx="575.8" cy="391.8" r="3.45"/>
<circle cx="450.2" cy="395.4" r="3.45"/>
<circle cx="463.9" cy="393.6" r="3.45"/>
<circle cx="468.1" cy="400.7" r="3.45"/>
<circle cx="473.5" cy="406.1" r="3.45"/>
<circle cx="459.2" cy="406.7" r="3.45"/>
<circle cx="463.3" cy="410.2" r="3.45"/>
<circle cx="444.9" cy="409.6" r="3.45"/>
<circle cx="483.2" cy="397.7" r="3.45"/>
<circle cx="491.3" cy="399.5" r="3.45"/>
<circle cx="498.5" cy="401.7" r="3.45"/>
<circle cx="463.3" cy="419.2" r="3.45"/>
<circle cx="480.0" cy="419.2" r="3.45"/>
<circle cx="482.4" cy="421.5" r="3.45"/>
<circle cx="490.7" cy="421.2" r="3.45"/>
<circle cx="479.4" cy="427.5" r="3.45"/>
<circle cx="490.1" cy="429.9" r="3.45"/>
<circle cx="502.6" cy="425.7" r="3.45"/>
<circle cx="434.2" cy="428.7" r="3.45"/>
<circle cx="445.5" cy="428.1" r="3.45"/>
<circle cx="448.5" cy="425.7" r="3.45"/>
<circle cx="453.2" cy="433.5" r="3.45"/>
<circle cx="459.8" cy="434.0" r="3.45"/>
<circle cx="461.5" cy="432.3" r="3.45"/>
<circle cx="470.5" cy="434.6" r="3.45"/>
<circle cx="475.2" cy="437.6" r="3.45"/>
<circle cx="481.2" cy="434.6" r="3.45"/>
<circle cx="486.0" cy="437.6" r="3.45"/>
<circle cx="465.7" cy="443.0" r="3.45"/>
<circle cx="468.1" cy="445.4" r="3.45"/>
<circle cx="472.3" cy="444.8" r="3.45"/>
<circle cx="476.4" cy="442.4" r="3.45"/>
<circle cx="475.8" cy="450.1" r="3.45"/>
<circle cx="484.2" cy="443.0" r="3.45"/>
<circle cx="490.1" cy="444.8" r="3.45"/>
<circle cx="494.3" cy="440.6" r="3.45"/>
<circle cx="448.5" cy="443.8" r="3.45"/>
<circle cx="456.8" cy="454.3" r="3.45"/>
<circle cx="465.7" cy="456.1" r="3.45"/>
<circle cx="443.1" cy="456.7" r="3.45"/>
<circle cx="437.1" cy="463.8" r="3.45"/>
<circle cx="460.4" cy="464.8" r="3.45"/>
<circle cx="453.8" cy="468.6" r="3.45"/>
<circle cx="482.4" cy="450.7" r="3.45"/>
<circle cx="483.0" cy="456.1" r="3.45"/>
<circle cx="486.0" cy="449.5" r="3.45"/>
<circle cx="481.2" cy="462.0" r="3.45"/>
<circle cx="488.3" cy="464.4" r="3.45"/>
<circle cx="489.5" cy="467.4" r="3.45"/>
<circle cx="498.5" cy="434.0" r="3.45"/>
<circle cx="497.3" cy="450.7" r="3.45"/>
<circle cx="498.5" cy="453.1" r="3.45"/>
<circle cx="503.2" cy="442.4" r="3.45"/>
<circle cx="507.4" cy="444.8" r="3.45"/>
<circle cx="511.0" cy="434.0" r="3.45"/>
<circle cx="513.3" cy="436.4" r="3.45"/>
<circle cx="516.9" cy="440.0" r="3.45"/>
<circle cx="515.7" cy="446.0" r="3.45"/>
<circle cx="517.5" cy="449.5" r="3.45"/>
<circle cx="521.7" cy="448.3" r="3.45"/>
<circle cx="526.4" cy="455.5" r="3.45"/>
<circle cx="507.4" cy="457.9" r="3.45"/>
<circle cx="512.1" cy="460.2" r="3.45"/>
<circle cx="514.5" cy="466.2" r="3.45"/>
<circle cx="517.5" cy="465.0" r="3.45"/>
<circle cx="507.4" cy="410.2" r="3.45"/>
<circle cx="515.7" cy="405.5" r="3.45"/>
<circle cx="519.3" cy="406.1" r="3.45"/>
<circle cx="521.1" cy="414.4" r="3.45"/>
<circle cx="513.3" cy="415.0" r="3.45"/>
<circle cx="514.5" cy="418.6" r="3.45"/>
<circle cx="532.4" cy="398.3" r="3.45"/>
<circle cx="544.9" cy="400.1" r="3.45"/>
<circle cx="533.6" cy="413.8" r="3.45"/>
<circle cx="533.6" cy="416.8" r="3.45"/>
<circle cx="558.0" cy="394.5" r="3.45"/>
<circle cx="562.1" cy="401.3" r="3.45"/>
<circle cx="558.0" cy="408.5" r="3.45"/>
<circle cx="553.2" cy="413.8" r="3.45"/>
<circle cx="552.6" cy="421.5" r="3.45"/>
<circle cx="556.8" cy="420.4" r="3.45"/>
<circle cx="544.9" cy="429.3" r="3.45"/>
<circle cx="549.0" cy="430.5" r="3.45"/>
<circle cx="556.2" cy="437.0" r="3.45"/>
<circle cx="551.4" cy="441.2" r="3.45"/>
<circle cx="532.4" cy="446.0" r="3.45"/>
<circle cx="536.0" cy="444.8" r="3.45"/>
<circle cx="541.9" cy="447.1" r="3.45"/>
<circle cx="547.9" cy="449.5" r="3.45"/>
<circle cx="549.0" cy="452.5" r="3.45"/>
<circle cx="534.2" cy="455.5" r="3.45"/>
<circle cx="540.7" cy="465.0" r="3.45"/>
<circle cx="531.8" cy="467.4" r="3.45"/>
<circle cx="549.0" cy="462.6" r="3.45"/>
<circle cx="553.8" cy="461.4" r="3.45"/>
<circle cx="552.6" cy="465.0" r="3.45"/>
<circle cx="565.7" cy="443.6" r="3.45"/>
<circle cx="567.5" cy="447.1" r="3.45"/>
<circle cx="571.1" cy="438.2" r="3.45"/>
<circle cx="572.9" cy="446.0" r="3.45"/>
<circle cx="575.2" cy="450.7" r="3.45"/>
<circle cx="578.8" cy="451.9" r="3.45"/>
<circle cx="569.9" cy="416.8" r="3.45"/>
<circle cx="572.3" cy="413.2" r="3.45"/>
<circle cx="577.6" cy="415.0" r="3.45"/>
<circle cx="577.0" cy="465.0" r="3.45"/>
<circle cx="584.8" cy="467.4" r="3.45"/>
<circle cx="372.4" cy="473.0" r="3.45"/>
<circle cx="386.1" cy="473.3" r="3.45"/>
<circle cx="413.2" cy="474.5" r="3.45"/>
<circle cx="414.0" cy="479.2" r="3.45"/>
<circle cx="411.7" cy="489.3" r="3.45"/>
<circle cx="427.0" cy="495.3" r="3.45"/>
<circle cx="460.7" cy="480.5" r="3.45"/>
<circle cx="472.6" cy="485.2" r="3.45"/>
<circle cx="482.4" cy="481.3" r="3.45"/>
<circle cx="486.0" cy="477.7" r="3.45"/>
<circle cx="511.0" cy="488.1" r="3.45"/>
<circle cx="517.9" cy="485.2" r="3.45"/>
<circle cx="517.5" cy="493.6" r="3.45"/>
<circle cx="531.2" cy="479.3" r="3.45"/>
<circle cx="528.8" cy="487.3" r="3.45"/>
<circle cx="533.6" cy="488.1" r="3.45"/>
<circle cx="549.4" cy="478.0" r="3.45"/>
<circle cx="556.2" cy="486.4" r="3.45"/>
<circle cx="549.0" cy="495.0" r="3.45"/>
<circle cx="552.0" cy="492.6" r="3.45"/>
<circle cx="565.7" cy="494.8" r="3.45"/>
<circle cx="566.3" cy="502.4" r="3.45"/>
<circle cx="575.8" cy="487.9" r="3.45"/>
<circle cx="580.0" cy="485.5" r="3.45"/>
<circle cx="582.4" cy="475.4" r="3.45"/>
<circle cx="487.1" cy="507.1" r="3.45"/>
<circle cx="522.9" cy="519.8" r="3.45"/>
<circle cx="493.1" cy="528.0" r="3.45"/>
<circle cx="552.0" cy="511.4" r="3.45"/>
<circle cx="591.8" cy="456.9" r="3.45"/>
<circle cx="599.8" cy="460.5" r="3.45"/>
<circle cx="609.6" cy="453.3" r="3.45"/>
<circle cx="613.8" cy="454.2" r="3.45"/>
<circle cx="604.0" cy="472.6" r="3.45"/>
<circle cx="604.9" cy="470.8" r="3.45"/>
<circle cx="609.6" cy="470.8" r="3.45"/>
<circle cx="615.0" cy="471.4" r="3.45"/>
<circle cx="614.2" cy="484.5" r="3.45"/>
<circle cx="618.6" cy="498.0" r="3.45"/>
<circle cx="592.4" cy="510.1" r="3.45"/>
<circle cx="636.2" cy="465.2" r="3.45"/>
<circle cx="636.2" cy="473.0" r="3.45"/>
<circle cx="632.6" cy="486.9" r="3.45"/>
<circle cx="650.5" cy="455.4" r="3.45"/>
<circle cx="654.9" cy="462.5" r="3.45"/>
<circle cx="666.2" cy="461.3" r="3.45"/>
<circle cx="669.8" cy="462.5" r="3.45"/>
<circle cx="654.3" cy="481.8" r="3.45"/>
<circle cx="661.4" cy="488.1" r="3.45"/>
<circle cx="665.0" cy="485.1" r="3.45"/>
<circle cx="662.9" cy="498.2" r="3.45"/>
<circle cx="672.1" cy="477.1" r="3.45"/>
<circle cx="676.5" cy="485.5" r="3.45"/>
<circle cx="679.3" cy="470.8" r="3.45"/>
<circle cx="681.1" cy="475.6" r="3.45"/>
<circle cx="682.9" cy="467.3" r="3.45"/>
<circle cx="685.2" cy="465.2" r="3.45"/>
<circle cx="692.1" cy="461.3" r="3.45"/>
<circle cx="694.2" cy="476.4" r="3.45"/>
<circle cx="707.9" cy="455.4" r="3.45"/>
<circle cx="711.4" cy="454.8" r="3.45"/>
<circle cx="713.8" cy="453.0" r="3.45"/>
<circle cx="714.4" cy="468.5" r="3.45"/>
<circle cx="715.0" cy="476.4" r="3.45"/>
<circle cx="719.2" cy="479.8" r="3.45"/>
<circle cx="722.1" cy="471.2" r="3.45"/>
<circle cx="723.3" cy="463.1" r="3.45"/>
<circle cx="725.7" cy="458.3" r="3.45"/>
<circle cx="726.9" cy="455.4" r="3.45"/>
<circle cx="727.5" cy="467.9" r="3.45"/>
<circle cx="731.1" cy="453.6" r="3.45"/>
<circle cx="732.3" cy="473.2" r="3.45"/>
<circle cx="732.9" cy="475.0" r="3.45"/>
<circle cx="739.4" cy="463.7" r="3.45"/>
<circle cx="745.4" cy="455.4" r="3.45"/>
<circle cx="748.9" cy="478.3" r="3.45"/>
<circle cx="737.0" cy="499.0" r="3.45"/>
<circle cx="761.9" cy="455.4" r="3.45"/>
<circle cx="760.7" cy="460.7" r="3.45"/>
<circle cx="764.5" cy="464.3" r="3.45"/>
<circle cx="777.6" cy="456.0" r="3.45"/>
<circle cx="777.1" cy="461.9" r="3.45"/>
<circle cx="780.7" cy="464.9" r="3.45"/>
<circle cx="793.1" cy="477.4" r="3.45"/>
<circle cx="811.7" cy="481.9" r="3.45"/>
<circle cx="811.7" cy="484.3" r="3.45"/>
<circle cx="828.0" cy="483.7" r="3.45"/>
<circle cx="690.6" cy="542.9" r="3.45"/>
<circle cx="712.5" cy="559.8" r="3.45"/>
</g>
<g fill="#bfa87c" stroke="#a89266" stroke-width="0.8">
<circle cx="1535.6" cy="157.6" r="3.45"/>
<circle cx="1557.3" cy="174.2" r="3.45"/>
<circle cx="1574.5" cy="180.5" r="3.45"/>
<circle cx="1578.9" cy="182.3" r="3.45"/>
<circle cx="1581.9" cy="178.1" r="3.45"/>
<circle cx="1586.7" cy="181.1" r="3.45"/>
<circle cx="1592.6" cy="179.3" r="3.45"/>
<circle cx="1596.2" cy="183.1" r="3.45"/>
<circle cx="1613.1" cy="185.5" r="3.45"/>
<circle cx="1620.8" cy="195.0" r="3.45"/>
<circle cx="1631.5" cy="198.1" r="3.45"/>
<circle cx="1640.2" cy="197.1" r="3.45"/>
<circle cx="1642.0" cy="190.0" r="3.45"/>
<circle cx="1647.4" cy="199.5" r="3.45"/>
<circle cx="1651.0" cy="192.4" r="3.45"/>
<circle cx="1652.1" cy="201.9" r="3.45"/>
<circle cx="1656.3" cy="199.5" r="3.45"/>
<circle cx="1646.2" cy="202.5" r="3.45"/>
<circle cx="1665.2" cy="196.5" r="3.45"/>
<circle cx="1664.6" cy="203.1" r="3.45"/>
<circle cx="1670.6" cy="191.4" r="3.45"/>
<circle cx="1671.2" cy="206.7" r="3.45"/>
<circle cx="1674.2" cy="211.4" r="3.45"/>
<circle cx="1689.6" cy="188.6" r="3.45"/>
<circle cx="1698.6" cy="193.0" r="3.45"/>
<circle cx="1685.5" cy="198.3" r="3.45"/>
<circle cx="1692.6" cy="198.9" r="3.45"/>
<circle cx="1696.2" cy="201.9" r="3.45"/>
<circle cx="1701.0" cy="204.3" r="3.45"/>
<circle cx="1702.1" cy="210.2" r="3.45"/>
<circle cx="1709.2" cy="201.3" r="3.45"/>
<circle cx="1711.0" cy="204.3" r="3.45"/>
<circle cx="1718.1" cy="198.0" r="3.45"/>
<circle cx="1724.0" cy="203.1" r="3.45"/>
<circle cx="1722.9" cy="206.1" r="3.45"/>
<circle cx="1717.9" cy="210.5" r="3.45"/>
<circle cx="1732.1" cy="208.5" r="3.45"/>
<circle cx="1732.4" cy="215.0" r="3.45"/>
<circle cx="1730.6" cy="216.2" r="3.45"/>
<circle cx="1745.5" cy="215.0" r="3.45"/>
<circle cx="1752.6" cy="198.7" r="3.45"/>
<circle cx="1766.3" cy="204.3" r="3.45"/>
<circle cx="1764.5" cy="211.4" r="3.45"/>
<circle cx="1770.5" cy="210.2" r="3.45"/>
<circle cx="1792.9" cy="216.2" r="3.45"/>
<circle cx="1827.6" cy="203.1" r="3.45"/>
<circle cx="1834.2" cy="214.4" r="3.45"/>
<circle cx="1703.9" cy="221.9" r="3.45"/>
<circle cx="1708.6" cy="218.9" r="3.45"/>
<circle cx="1724.0" cy="220.1" r="3.45"/>
<circle cx="1745.5" cy="221.9" r="3.45"/>
<circle cx="1753.2" cy="218.9" r="3.45"/>
<circle cx="1749.6" cy="227.9" r="3.45"/>
<circle cx="1755.0" cy="231.4" r="3.45"/>
<circle cx="1763.3" cy="221.3" r="3.45"/>
<circle cx="1767.5" cy="221.9" r="3.45"/>
<circle cx="1766.9" cy="225.5" r="3.45"/>
<circle cx="1759.8" cy="226.7" r="3.45"/>
<circle cx="1768.1" cy="233.8" r="3.45"/>
<circle cx="1773.5" cy="232.6" r="3.45"/>
<circle cx="1763.3" cy="239.8" r="3.45"/>
<circle cx="1713.9" cy="229.0" r="3.45"/>
<circle cx="1733.6" cy="240.0" r="3.45"/>
<circle cx="1755.6" cy="247.9" r="3.45"/>
<circle cx="1782.4" cy="223.7" r="3.45"/>
<circle cx="1786.0" cy="229.6" r="3.45"/>
<circle cx="1784.2" cy="238.8" r="3.45"/>
<circle cx="1776.4" cy="245.7" r="3.45"/>
<circle cx="1780.0" cy="251.7" r="3.45"/>
<circle cx="1788.3" cy="250.5" r="3.45"/>
<circle cx="1784.8" cy="257.0" r="3.45"/>
<circle cx="1785.4" cy="263.6" r="3.45"/>
<circle cx="1755.6" cy="264.8" r="3.45"/>
<circle cx="1755.6" cy="268.3" r="3.45"/>
<circle cx="1793.1" cy="273.7" r="3.45"/>
<circle cx="1799.0" cy="223.7" r="3.45"/>
<circle cx="1808.0" cy="221.3" r="3.45"/>
<circle cx="1815.7" cy="227.9" r="3.45"/>
<circle cx="1807.4" cy="235.0" r="3.45"/>
<circle cx="1812.1" cy="241.5" r="3.45"/>
<circle cx="1816.9" cy="239.8" r="3.45"/>
<circle cx="1819.9" cy="237.6" r="3.45"/>
<circle cx="1810.4" cy="250.5" r="3.45"/>
<circle cx="1803.2" cy="251.7" r="3.45"/>
<circle cx="1816.3" cy="257.0" r="3.45"/>
<circle cx="1817.5" cy="260.6" r="3.45"/>
<circle cx="1826.4" cy="255.0" r="3.45"/>
<circle cx="1828.2" cy="245.4" r="3.45"/>
<circle cx="1827.6" cy="233.8" r="3.45"/>
<circle cx="1831.2" cy="235.0" r="3.45"/>
<circle cx="1834.8" cy="233.2" r="3.45"/>
<circle cx="1838.1" cy="246.7" r="3.45"/>
<circle cx="1846.7" cy="241.0" r="3.45"/>
<circle cx="1847.9" cy="238.0" r="3.45"/>
<circle cx="1827.6" cy="266.0" r="3.45"/>
<circle cx="1817.5" cy="276.1" r="3.45"/>
<circle cx="1821.7" cy="275.2" r="3.45"/>
<circle cx="1833.6" cy="286.2" r="3.45"/>
<circle cx="1838.3" cy="283.2" r="3.45"/>
<circle cx="1862.7" cy="227.3" r="3.45"/>
<circle cx="1862.7" cy="254.0" r="3.45"/>
<circle cx="1852.6" cy="263.0" r="3.45"/>
<circle cx="1850.8" cy="269.5" r="3.45"/>
<circle cx="1855.6" cy="274.3" r="3.45"/>
<circle cx="1862.7" cy="267.1" r="3.45"/>
<circle cx="1861.5" cy="281.4" r="3.45"/>
<circle cx="1844.3" cy="254.6" r="3.45"/>
<circle cx="1871.6" cy="237.8" r="3.45"/>
<circle cx="1877.8" cy="248.5" r="3.45"/>
<circle cx="1880.4" cy="252.5" r="3.45"/>
<circle cx="1879.6" cy="255.7" r="3.45"/>
<circle cx="1866.2" cy="259.2" r="3.45"/>
<circle cx="1885.8" cy="274.5" r="3.45"/>
<circle cx="1865.2" cy="280.6" r="3.45"/>
<circle cx="1867.1" cy="286.0" r="3.45"/>
<circle cx="1873.8" cy="283.3" r="3.45"/>
<circle cx="1872.4" cy="291.3" r="3.45"/>
<circle cx="1859.8" cy="296.7" r="3.45"/>
<circle cx="1866.2" cy="308.2" r="3.45"/>
<circle cx="1693.2" cy="316.4" r="3.45"/>
<circle cx="1850.8" cy="293.0" r="3.45"/>
<circle cx="1890.6" cy="399.0" r="3.45"/>
</g>
<g fill="#3d60a8" stroke="#2f4c8c" stroke-width="0.8">
<circle cx="1467.1" cy="181.7" r="3.45"/>
<circle cx="1489.8" cy="175.1" r="3.45"/>
<circle cx="1492.1" cy="171.9" r="3.45"/>
<circle cx="1512.1" cy="171.2" r="3.45"/>
<circle cx="1522.5" cy="170.4" r="3.45"/>
<circle cx="1532.0" cy="173.9" r="3.45"/>
<circle cx="1534.0" cy="177.9" r="3.45"/>
<circle cx="1534.6" cy="164.6" r="3.45"/>
<circle cx="1541.5" cy="154.3" r="3.45"/>
<circle cx="1542.7" cy="184.0" r="3.45"/>
<circle cx="1503.5" cy="185.2" r="3.45"/>
<circle cx="1509.4" cy="186.4" r="3.45"/>
<circle cx="1502.9" cy="195.4" r="3.45"/>
<circle cx="1507.6" cy="194.8" r="3.45"/>
<circle cx="1509.4" cy="203.9" r="3.45"/>
<circle cx="1513.6" cy="203.1" r="3.45"/>
<circle cx="1538.0" cy="200.4" r="3.45"/>
<circle cx="1527.6" cy="206.9" r="3.45"/>
<circle cx="1527.3" cy="214.0" r="3.45"/>
<circle cx="1518.3" cy="212.6" r="3.45"/>
<circle cx="1497.5" cy="212.0" r="3.45"/>
<circle cx="1495.7" cy="212.6" r="3.45"/>
<circle cx="1464.8" cy="210.5" r="3.45"/>
<circle cx="1473.7" cy="218.6" r="3.45"/>
<circle cx="1505.2" cy="218.6" r="3.45"/>
<circle cx="1509.4" cy="216.2" r="3.45"/>
<circle cx="1516.0" cy="218.0" r="3.45"/>
<circle cx="1535.6" cy="216.2" r="3.45"/>
<circle cx="1571.4" cy="158.8" r="3.45"/>
<circle cx="1592.9" cy="168.8" r="3.45"/>
<circle cx="1549.8" cy="188.8" r="3.45"/>
<circle cx="1553.3" cy="191.2" r="3.45"/>
<circle cx="1555.1" cy="192.4" r="3.45"/>
<circle cx="1555.7" cy="198.3" r="3.45"/>
<circle cx="1560.2" cy="204.3" r="3.45"/>
<circle cx="1555.1" cy="207.9" r="3.45"/>
<circle cx="1561.1" cy="212.0" r="3.45"/>
<circle cx="1566.4" cy="210.2" r="3.45"/>
<circle cx="1567.0" cy="212.6" r="3.45"/>
<circle cx="1575.4" cy="201.9" r="3.45"/>
<circle cx="1599.2" cy="203.9" r="3.45"/>
<circle cx="1652.7" cy="173.3" r="3.45"/>
<circle cx="1657.5" cy="172.1" r="3.45"/>
<circle cx="1701.0" cy="177.5" r="3.45"/>
<circle cx="1586.9" cy="218.6" r="3.45"/>
<circle cx="1604.5" cy="218.6" r="3.45"/>
<circle cx="1608.7" cy="217.4" r="3.45"/>
<circle cx="1712.7" cy="174.5" r="3.45"/>
<circle cx="1717.5" cy="178.3" r="3.45"/>
<circle cx="1740.5" cy="183.7" r="3.45"/>
<circle cx="1826.4" cy="193.8" r="3.45"/>
<circle cx="1517.7" cy="227.3" r="3.45"/>
<circle cx="1527.6" cy="224.9" r="3.45"/>
<circle cx="1542.7" cy="226.7" r="3.45"/>
<circle cx="1536.0" cy="236.4" r="3.45"/>
<circle cx="1403.2" cy="226.1" r="3.45"/>
<circle cx="1433.6" cy="227.3" r="3.45"/>
<circle cx="1437.4" cy="235.6" r="3.45"/>
<circle cx="1407.3" cy="241.5" r="3.45"/>
<circle cx="1418.3" cy="239.2" r="3.45"/>
<circle cx="1417.7" cy="244.5" r="3.45"/>
<circle cx="1426.7" cy="245.1" r="3.45"/>
<circle cx="1423.1" cy="246.9" r="3.45"/>
<circle cx="1420.1" cy="253.5" r="3.45"/>
<circle cx="1425.5" cy="258.2" r="3.45"/>
<circle cx="1435.6" cy="252.6" r="3.45"/>
<circle cx="1425.5" cy="266.0" r="3.45"/>
<circle cx="1430.6" cy="271.7" r="3.45"/>
<circle cx="1439.2" cy="273.1" r="3.45"/>
<circle cx="1439.2" cy="276.7" r="3.45"/>
<circle cx="1438.0" cy="281.7" r="3.45"/>
<circle cx="1457.4" cy="274.9" r="3.45"/>
<circle cx="1463.0" cy="288.0" r="3.45"/>
<circle cx="1533.8" cy="261.8" r="3.45"/>
<circle cx="1536.8" cy="258.2" r="3.45"/>
<circle cx="1535.6" cy="265.4" r="3.45"/>
<circle cx="1542.1" cy="267.7" r="3.45"/>
<circle cx="1533.8" cy="274.5" r="3.45"/>
<circle cx="1567.0" cy="225.5" r="3.45"/>
<circle cx="1569.4" cy="223.7" r="3.45"/>
<circle cx="1579.5" cy="228.5" r="3.45"/>
<circle cx="1584.3" cy="229.6" r="3.45"/>
<circle cx="1576.5" cy="238.6" r="3.45"/>
<circle cx="1593.8" cy="239.8" r="3.45"/>
<circle cx="1549.8" cy="244.3" r="3.45"/>
<circle cx="1558.5" cy="247.1" r="3.45"/>
<circle cx="1570.0" cy="251.1" r="3.45"/>
<circle cx="1553.9" cy="257.9" r="3.45"/>
<circle cx="1568.8" cy="266.0" r="3.45"/>
<circle cx="1565.2" cy="271.9" r="3.45"/>
<circle cx="1568.8" cy="271.9" r="3.45"/>
<circle cx="1580.5" cy="267.5" r="3.45"/>
<circle cx="1553.3" cy="276.1" r="3.45"/>
<circle cx="1580.7" cy="281.2" r="3.45"/>
<circle cx="1601.5" cy="277.0" r="3.45"/>
<circle cx="1613.5" cy="269.5" r="3.45"/>
<circle cx="1617.0" cy="248.9" r="3.45"/>
<circle cx="1615.8" cy="256.4" r="3.45"/>
<circle cx="1638.5" cy="223.7" r="3.45"/>
<circle cx="1644.4" cy="232.0" r="3.45"/>
<circle cx="1653.9" cy="239.8" r="3.45"/>
<circle cx="1658.1" cy="236.8" r="3.45"/>
<circle cx="1662.3" cy="236.8" r="3.45"/>
<circle cx="1666.4" cy="242.7" r="3.45"/>
<circle cx="1673.3" cy="243.9" r="3.45"/>
<circle cx="1673.8" cy="248.7" r="3.45"/>
<circle cx="1639.3" cy="249.6" r="3.45"/>
<circle cx="1662.3" cy="253.8" r="3.45"/>
<circle cx="1667.6" cy="256.7" r="3.45"/>
<circle cx="1662.9" cy="262.4" r="3.45"/>
<circle cx="1652.7" cy="266.5" r="3.45"/>
<circle cx="1653.3" cy="268.3" r="3.45"/>
<circle cx="1683.7" cy="258.8" r="3.45"/>
<circle cx="1692.6" cy="258.8" r="3.45"/>
<circle cx="1676.9" cy="266.9" r="3.45"/>
<circle cx="1696.4" cy="268.0" r="3.45"/>
<circle cx="1703.9" cy="264.5" r="3.45"/>
<circle cx="1674.2" cy="279.6" r="3.45"/>
<circle cx="1678.3" cy="282.6" r="3.45"/>
<circle cx="1681.3" cy="286.2" r="3.45"/>
<circle cx="1707.4" cy="275.5" r="3.45"/>
<circle cx="1722.3" cy="280.2" r="3.45"/>
<circle cx="1726.4" cy="282.6" r="3.45"/>
<circle cx="1729.4" cy="284.8" r="3.45"/>
<circle cx="1843.7" cy="258.8" r="3.45"/>
<circle cx="1447.9" cy="294.5" r="3.45"/>
<circle cx="1493.9" cy="330.8" r="3.45"/>
<circle cx="1526.1" cy="350.4" r="3.45"/>
<circle cx="1609.9" cy="296.0" r="3.45"/>
<circle cx="1642.6" cy="295.4" r="3.45"/>
<circle cx="1601.0" cy="305.5" r="3.45"/>
<circle cx="1587.9" cy="312.4" r="3.45"/>
<circle cx="1586.1" cy="321.9" r="3.45"/>
<circle cx="1587.9" cy="334.0" r="3.45"/>
<circle cx="1592.4" cy="338.6" r="3.45"/>
<circle cx="1601.0" cy="346.0" r="3.45"/>
<circle cx="1603.3" cy="342.4" r="3.45"/>
<circle cx="1608.1" cy="350.1" r="3.45"/>
<circle cx="1610.5" cy="349.5" r="3.45"/>
<circle cx="1611.1" cy="340.0" r="3.45"/>
<circle cx="1617.0" cy="331.1" r="3.45"/>
<circle cx="1618.8" cy="337.9" r="3.45"/>
<circle cx="1626.5" cy="318.2" r="3.45"/>
<circle cx="1624.2" cy="327.9" r="3.45"/>
<circle cx="1628.3" cy="326.9" r="3.45"/>
<circle cx="1631.3" cy="346.5" r="3.45"/>
<circle cx="1636.1" cy="341.8" r="3.45"/>
<circle cx="1647.1" cy="333.8" r="3.45"/>
<circle cx="1650.7" cy="343.0" r="3.45"/>
<circle cx="1652.1" cy="351.9" r="3.45"/>
<circle cx="1644.8" cy="357.6" r="3.45"/>
<circle cx="1618.8" cy="355.5" r="3.45"/>
<circle cx="1621.8" cy="360.2" r="3.45"/>
<circle cx="1622.4" cy="362.6" r="3.45"/>
<circle cx="1618.8" cy="366.2" r="3.45"/>
<circle cx="1628.3" cy="368.0" r="3.45"/>
<circle cx="1682.1" cy="291.8" r="3.45"/>
<circle cx="1681.3" cy="301.0" r="3.45"/>
<circle cx="1687.9" cy="306.7" r="3.45"/>
<circle cx="1696.8" cy="316.8" r="3.45"/>
<circle cx="1677.1" cy="344.5" r="3.45"/>
<circle cx="1680.1" cy="343.3" r="3.45"/>
<circle cx="1684.0" cy="351.3" r="3.45"/>
<circle cx="1669.0" cy="361.1" r="3.45"/>
<circle cx="1677.1" cy="363.2" r="3.45"/>
<circle cx="1685.2" cy="365.6" r="3.45"/>
<circle cx="1667.0" cy="368.6" r="3.45"/>
<circle cx="1704.5" cy="337.0" r="3.45"/>
<circle cx="1553.9" cy="362.0" r="3.45"/>
<circle cx="1552.1" cy="365.6" r="3.45"/>
<circle cx="1576.0" cy="365.6" r="3.45"/>
<circle cx="1593.8" cy="367.4" r="3.45"/>
<circle cx="1599.2" cy="367.4" r="3.45"/>
<circle cx="1583.7" cy="369.2" r="3.45"/>
<circle cx="1720.5" cy="293.6" r="3.45"/>
<circle cx="1714.5" cy="298.3" r="3.45"/>
<circle cx="1716.3" cy="301.9" r="3.45"/>
<circle cx="1721.7" cy="300.1" r="3.45"/>
<circle cx="1734.8" cy="296.9" r="3.45"/>
<circle cx="1744.9" cy="291.8" r="3.45"/>
<circle cx="1746.9" cy="295.4" r="3.45"/>
<circle cx="1744.9" cy="305.5" r="3.45"/>
<circle cx="1746.7" cy="310.2" r="3.45"/>
<circle cx="1716.9" cy="320.1" r="3.45"/>
<circle cx="1738.3" cy="320.1" r="3.45"/>
<circle cx="1744.3" cy="317.4" r="3.45"/>
<circle cx="1748.5" cy="322.1" r="3.45"/>
<circle cx="1758.6" cy="330.5" r="3.45"/>
<circle cx="1758.6" cy="332.3" r="3.45"/>
<circle cx="1765.7" cy="341.4" r="3.45"/>
<circle cx="1758.6" cy="352.7" r="3.45"/>
<circle cx="1770.5" cy="353.7" r="3.45"/>
<circle cx="1769.9" cy="359.0" r="3.45"/>
<circle cx="1769.3" cy="360.8" r="3.45"/>
<circle cx="1747.6" cy="356.4" r="3.45"/>
<circle cx="1739.3" cy="359.4" r="3.45"/>
<circle cx="1708.3" cy="360.2" r="3.45"/>
<circle cx="1459.2" cy="418.5" r="3.45"/>
<circle cx="1517.7" cy="403.3" r="3.45"/>
<circle cx="1519.8" cy="409.5" r="3.45"/>
<circle cx="1543.1" cy="443.2" r="3.45"/>
<circle cx="1586.7" cy="373.0" r="3.45"/>
<circle cx="1671.2" cy="371.2" r="3.45"/>
<circle cx="1572.4" cy="380.5" r="3.45"/>
<circle cx="1616.4" cy="377.1" r="3.45"/>
<circle cx="1629.8" cy="376.5" r="3.45"/>
<circle cx="1643.8" cy="373.0" r="3.45"/>
<circle cx="1551.5" cy="391.8" r="3.45"/>
<circle cx="1561.1" cy="391.8" r="3.45"/>
<circle cx="1573.6" cy="395.4" r="3.45"/>
<circle cx="1578.9" cy="391.4" r="3.45"/>
<circle cx="1583.7" cy="386.7" r="3.45"/>
<circle cx="1588.1" cy="393.5" r="3.45"/>
<circle cx="1598.8" cy="391.8" r="3.45"/>
<circle cx="1599.2" cy="401.5" r="3.45"/>
<circle cx="1596.8" cy="408.3" r="3.45"/>
<circle cx="1582.5" cy="411.1" r="3.45"/>
<circle cx="1559.5" cy="418.2" r="3.45"/>
<circle cx="1587.6" cy="421.2" r="3.45"/>
<circle cx="1595.0" cy="421.8" r="3.45"/>
<circle cx="1580.5" cy="427.5" r="3.45"/>
<circle cx="1562.6" cy="440.5" r="3.45"/>
<circle cx="1582.5" cy="438.8" r="3.45"/>
<circle cx="1591.4" cy="442.9" r="3.45"/>
<circle cx="1609.9" cy="430.5" r="3.45"/>
<circle cx="1616.4" cy="417.0" r="3.45"/>
<circle cx="1620.0" cy="411.1" r="3.45"/>
<circle cx="1623.6" cy="411.7" r="3.45"/>
<circle cx="1616.4" cy="389.0" r="3.45"/>
<circle cx="1618.2" cy="393.8" r="3.45"/>
<circle cx="1621.2" cy="392.0" r="3.45"/>
<circle cx="1626.5" cy="393.8" r="3.45"/>
<circle cx="1629.5" cy="395.6" r="3.45"/>
<circle cx="1640.2" cy="384.9" r="3.45"/>
<circle cx="1642.6" cy="387.3" r="3.45"/>
<circle cx="1645.0" cy="398.2" r="3.45"/>
<circle cx="1631.9" cy="405.4" r="3.45"/>
<circle cx="1639.0" cy="404.5" r="3.45"/>
<circle cx="1651.0" cy="414.0" r="3.45"/>
<circle cx="1643.6" cy="420.6" r="3.45"/>
<circle cx="1622.4" cy="422.4" r="3.45"/>
<circle cx="1626.0" cy="422.4" r="3.45"/>
<circle cx="1629.5" cy="422.4" r="3.45"/>
<circle cx="1621.2" cy="426.0" r="3.45"/>
<circle cx="1628.3" cy="427.1" r="3.45"/>
<circle cx="1636.1" cy="429.5" r="3.45"/>
<circle cx="1644.8" cy="436.7" r="3.45"/>
<circle cx="1620.0" cy="439.0" r="3.45"/>
<circle cx="1612.9" cy="442.6" r="3.45"/>
<circle cx="1609.9" cy="447.4" r="3.45"/>
<circle cx="1616.4" cy="446.2" r="3.45"/>
<circle cx="1623.6" cy="445.6" r="3.45"/>
<circle cx="1634.3" cy="448.6" r="3.45"/>
<circle cx="1643.8" cy="445.0" r="3.45"/>
<circle cx="1648.6" cy="447.4" r="3.45"/>
<circle cx="1659.3" cy="443.8" r="3.45"/>
<circle cx="1662.3" cy="441.4" r="3.45"/>
<circle cx="1658.1" cy="390.5" r="3.45"/>
<circle cx="1664.6" cy="394.4" r="3.45"/>
<circle cx="1667.0" cy="383.7" r="3.45"/>
<circle cx="1675.4" cy="386.1" r="3.45"/>
<circle cx="1679.5" cy="385.2" r="3.45"/>
<circle cx="1666.4" cy="403.9" r="3.45"/>
<circle cx="1683.7" cy="403.9" r="3.45"/>
<circle cx="1687.3" cy="402.7" r="3.45"/>
<circle cx="1688.5" cy="375.4" r="3.45"/>
<circle cx="1691.4" cy="379.5" r="3.45"/>
<circle cx="1692.0" cy="381.9" r="3.45"/>
<circle cx="1694.4" cy="379.5" r="3.45"/>
<circle cx="1703.3" cy="380.1" r="3.45"/>
<circle cx="1703.3" cy="393.2" r="3.45"/>
<circle cx="1703.3" cy="402.1" r="3.45"/>
<circle cx="1690.2" cy="413.5" r="3.45"/>
<circle cx="1692.0" cy="419.4" r="3.45"/>
<circle cx="1696.8" cy="418.8" r="3.45"/>
<circle cx="1661.7" cy="421.2" r="3.45"/>
<circle cx="1661.1" cy="426.0" r="3.45"/>
<circle cx="1667.6" cy="422.4" r="3.45"/>
<circle cx="1673.6" cy="422.4" r="3.45"/>
<circle cx="1676.5" cy="422.4" r="3.45"/>
<circle cx="1672.4" cy="429.5" r="3.45"/>
<circle cx="1680.7" cy="433.1" r="3.45"/>
<circle cx="1685.5" cy="428.3" r="3.45"/>
<circle cx="1687.3" cy="437.3" r="3.45"/>
<circle cx="1680.7" cy="441.4" r="3.45"/>
<circle cx="1685.5" cy="442.6" r="3.45"/>
<circle cx="1671.2" cy="448.6" r="3.45"/>
<circle cx="1719.3" cy="392.6" r="3.45"/>
<circle cx="1736.2" cy="395.0" r="3.45"/>
<circle cx="1720.2" cy="408.7" r="3.45"/>
<circle cx="1709.8" cy="415.5" r="3.45"/>
<circle cx="1762.7" cy="384.9" r="3.45"/>
<circle cx="1774.0" cy="378.9" r="3.45"/>
<circle cx="1776.4" cy="377.1" r="3.45"/>
<circle cx="1783.0" cy="373.0" r="3.45"/>
<circle cx="1759.8" cy="399.2" r="3.45"/>
<circle cx="1762.7" cy="403.9" r="3.45"/>
<circle cx="1794.0" cy="395.8" r="3.45"/>
<circle cx="1746.7" cy="415.8" r="3.45"/>
<circle cx="1749.0" cy="417.4" r="3.45"/>
<circle cx="1731.2" cy="424.8" r="3.45"/>
<circle cx="1730.0" cy="431.9" r="3.45"/>
<circle cx="1733.6" cy="435.5" r="3.45"/>
<circle cx="1733.0" cy="438.5" r="3.45"/>
<circle cx="1719.3" cy="439.3" r="3.45"/>
<circle cx="1713.9" cy="445.0" r="3.45"/>
<circle cx="1750.2" cy="434.9" r="3.45"/>
<circle cx="1744.3" cy="442.4" r="3.45"/>
<circle cx="1760.4" cy="440.0" r="3.45"/>
<circle cx="1763.3" cy="445.0" r="3.45"/>
<circle cx="1765.7" cy="429.2" r="3.45"/>
<circle cx="1775.2" cy="426.5" r="3.45"/>
<circle cx="1772.9" cy="439.6" r="3.45"/>
<circle cx="1788.9" cy="428.6" r="3.45"/>
<circle cx="1793.1" cy="421.2" r="3.45"/>
<circle cx="1798.5" cy="420.0" r="3.45"/>
<circle cx="1559.9" cy="455.7" r="3.45"/>
<circle cx="1598.6" cy="468.2" r="3.45"/>
<circle cx="1606.3" cy="453.0" r="3.45"/>
<circle cx="1611.7" cy="458.3" r="3.45"/>
<circle cx="1616.4" cy="457.1" r="3.45"/>
<circle cx="1620.0" cy="464.0" r="3.45"/>
<circle cx="1619.8" cy="476.8" r="3.45"/>
<circle cx="1623.6" cy="450.6" r="3.45"/>
<circle cx="1634.3" cy="468.8" r="3.45"/>
<circle cx="1641.4" cy="462.9" r="3.45"/>
<circle cx="1646.8" cy="460.5" r="3.45"/>
<circle cx="1652.5" cy="465.7" r="3.45"/>
<circle cx="1655.7" cy="453.6" r="3.45"/>
<circle cx="1662.3" cy="453.6" r="3.45"/>
<circle cx="1664.0" cy="458.3" r="3.45"/>
<circle cx="1665.2" cy="463.7" r="3.45"/>
<circle cx="1673.0" cy="483.1" r="3.45"/>
<circle cx="1676.0" cy="466.1" r="3.45"/>
<circle cx="1679.5" cy="469.0" r="3.45"/>
<circle cx="1683.1" cy="469.6" r="3.45"/>
<circle cx="1679.5" cy="476.8" r="3.45"/>
<circle cx="1683.1" cy="478.2" r="3.45"/>
<circle cx="1685.5" cy="455.4" r="3.45"/>
<circle cx="1684.3" cy="461.3" r="3.45"/>
<circle cx="1693.8" cy="460.7" r="3.45"/>
<circle cx="1692.0" cy="471.4" r="3.45"/>
<circle cx="1699.2" cy="474.4" r="3.45"/>
<circle cx="1702.1" cy="483.9" r="3.45"/>
<circle cx="1690.8" cy="488.1" r="3.45"/>
<circle cx="1693.8" cy="490.5" r="3.45"/>
<circle cx="1692.6" cy="489.3" r="3.45"/>
<circle cx="1715.5" cy="452.1" r="3.45"/>
<circle cx="1721.1" cy="455.4" r="3.45"/>
<circle cx="1721.4" cy="458.9" r="3.45"/>
<circle cx="1739.3" cy="453.8" r="3.45"/>
<circle cx="1758.0" cy="451.0" r="3.45"/>
<circle cx="1788.3" cy="454.5" r="3.45"/>
<circle cx="1786.9" cy="461.3" r="3.45"/>
<circle cx="1803.6" cy="451.8" r="3.45"/>
<circle cx="1708.6" cy="461.7" r="3.45"/>
<circle cx="1717.5" cy="470.5" r="3.45"/>
<circle cx="1738.9" cy="465.5" r="3.45"/>
<circle cx="1745.5" cy="461.3" r="3.45"/>
<circle cx="1746.1" cy="466.7" r="3.45"/>
<circle cx="1753.2" cy="463.7" r="3.45"/>
<circle cx="1759.8" cy="469.0" r="3.45"/>
<circle cx="1762.7" cy="465.2" r="3.45"/>
<circle cx="1768.1" cy="467.9" r="3.45"/>
<circle cx="1770.5" cy="465.5" r="3.45"/>
<circle cx="1774.0" cy="461.3" r="3.45"/>
<circle cx="1772.3" cy="475.0" r="3.45"/>
<circle cx="1755.0" cy="476.8" r="3.45"/>
<circle cx="1760.4" cy="477.1" r="3.45"/>
<circle cx="1756.4" cy="482.7" r="3.45"/>
<circle cx="1708.0" cy="479.8" r="3.45"/>
<circle cx="1708.0" cy="485.7" r="3.45"/>
<circle cx="1723.5" cy="483.9" r="3.45"/>
<circle cx="1735.4" cy="482.1" r="3.45"/>
<circle cx="1715.7" cy="493.5" r="3.45"/>
<circle cx="1726.4" cy="490.5" r="3.45"/>
<circle cx="1727.0" cy="496.4" r="3.45"/>
<circle cx="1732.4" cy="498.8" r="3.45"/>
<circle cx="1736.0" cy="497.0" r="3.45"/>
<circle cx="1739.5" cy="495.8" r="3.45"/>
<circle cx="1742.5" cy="491.7" r="3.45"/>
<circle cx="1750.2" cy="492.6" r="3.45"/>
<circle cx="1753.8" cy="498.2" r="3.45"/>
<circle cx="1761.5" cy="502.4" r="3.45"/>
<circle cx="1768.7" cy="496.4" r="3.45"/>
<circle cx="1769.3" cy="503.6" r="3.45"/>
<circle cx="1772.9" cy="505.4" r="3.45"/>
<circle cx="1781.2" cy="502.4" r="3.45"/>
<circle cx="1783.6" cy="506.0" r="3.45"/>
<circle cx="1796.4" cy="473.0" r="3.45"/>
<circle cx="1796.1" cy="483.9" r="3.45"/>
<circle cx="1800.2" cy="484.8" r="3.45"/>
<circle cx="1809.8" cy="491.1" r="3.45"/>
<circle cx="1811.0" cy="492.9" r="3.45"/>
<circle cx="1826.2" cy="491.1" r="3.45"/>
<circle cx="1834.2" cy="497.0" r="3.45"/>
<circle cx="1838.3" cy="486.3" r="3.45"/>
<circle cx="1843.1" cy="494.3" r="3.45"/>
<circle cx="1795.5" cy="499.2" r="3.45"/>
<circle cx="1800.0" cy="507.1" r="3.45"/>
<circle cx="1917.9" cy="407.6" r="3.45"/>
<circle cx="1927.3" cy="409.7" r="3.45"/>
<circle cx="1930.5" cy="404.6" r="3.45"/>
<circle cx="1922.5" cy="434.4" r="3.45"/>
<circle cx="1929.1" cy="442.0" r="3.45"/>
<circle cx="1922.0" cy="454.3" r="3.45"/>
<circle cx="1926.4" cy="464.1" r="3.45"/>
<circle cx="1927.3" cy="467.7" r="3.45"/>
<circle cx="1923.8" cy="469.5" r="3.45"/>
<circle cx="1920.2" cy="472.1" r="3.45"/>
<circle cx="1922.9" cy="473.9" r="3.45"/>
<circle cx="1924.6" cy="475.7" r="3.45"/>
<circle cx="1922.0" cy="476.6" r="3.45"/>
<circle cx="1914.8" cy="481.1" r="3.45"/>
<circle cx="1911.7" cy="484.2" r="3.45"/>
<circle cx="1901.9" cy="482.4" r="3.45"/>
<circle cx="1545.5" cy="155.5" r="3.45"/>
<circle cx="1545.5" cy="185.5" r="3.45"/>
</g>
</svg>
</body></html>
